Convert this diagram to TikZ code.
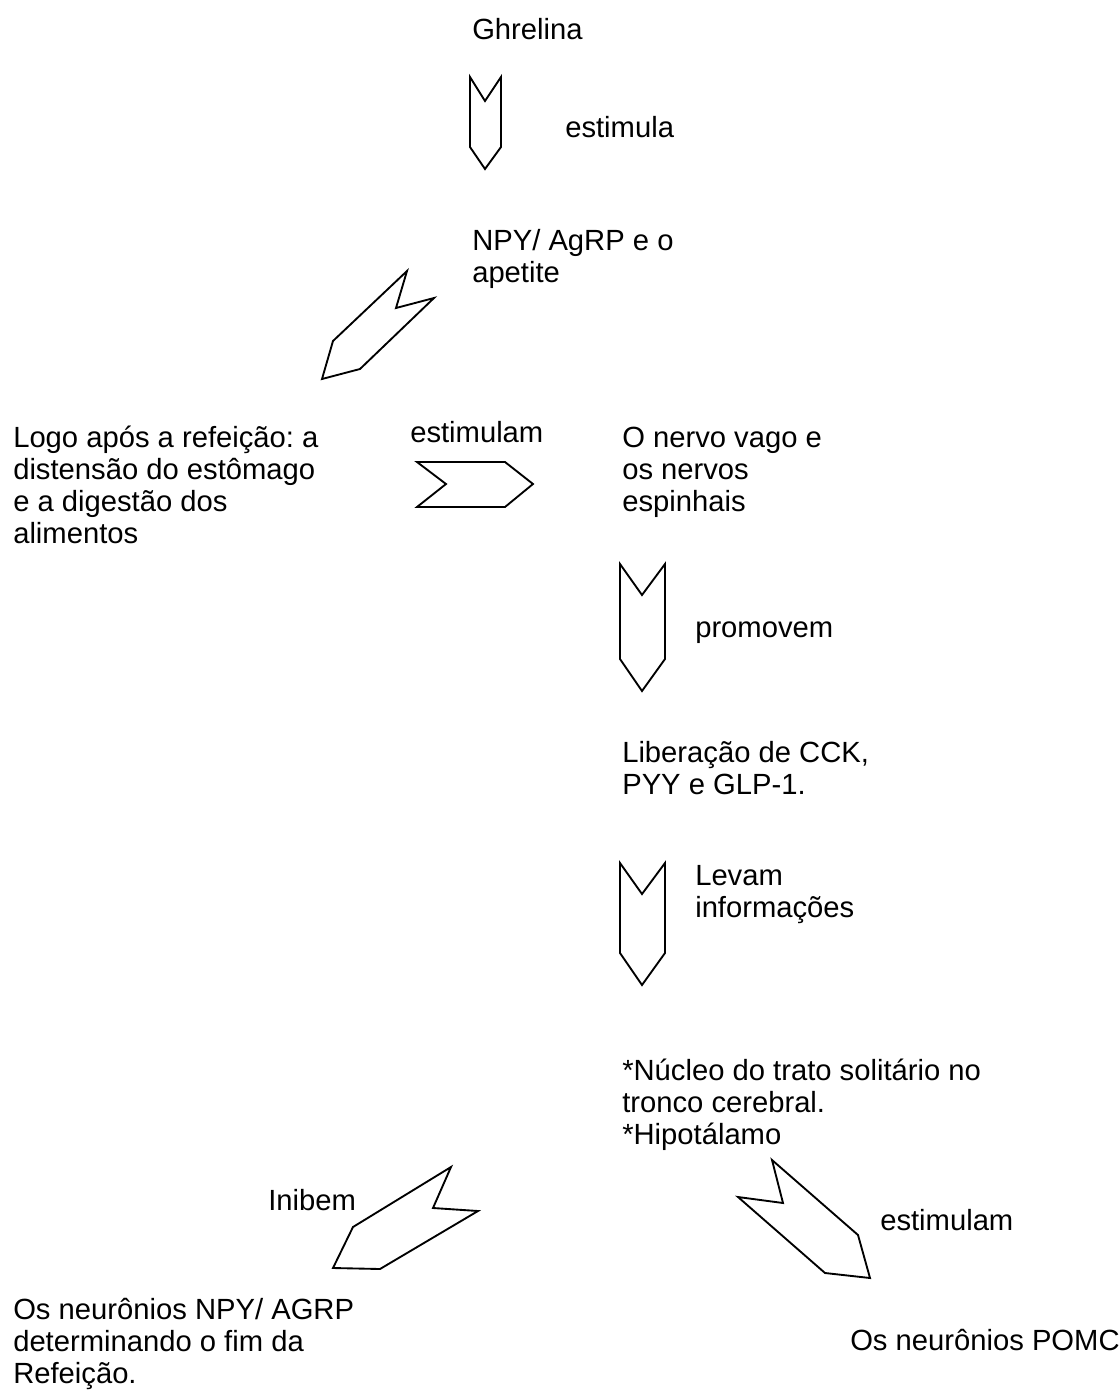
\documentclass[tikz,border=0pt]{standalone}
\usepackage{fontspec}
\setmainfont{Liberation Sans}
\usepackage{tikz}
\frenchspacing

\tikzset{
  txt/.style={anchor=base west, inner sep=0pt, align=left,
    font=\fontsize{21.9}{23.8}\selectfont},
  blockarrow/.style={draw=black, line width=1.4pt, line join=miter}
}

\begin{document}
\begin{tikzpicture}[x=0.75pt, y=-0.75pt]
        \useasboundingbox (0,0) rectangle (1120,1392);
        % texts (multi-line ones are placed by their last line)
        \node[txt] (ghrelina) at (472,39) {Ghrelina};
        \node[txt] (estimula) at (565,137) {estimula};
        \node[txt] (npy) at (472,282) {NPY/ AgRP e o\\apetite};
        \node[txt] (logo) at (13,543) {Logo após a refeição: a\\distensão do estômago\\e a digestão dos\\alimentos};
        \node[txt] (estimulamA) at (410,442) {estimulam};
        \node[txt] (vago) at (622,511) {O nervo vago e\\os nervos\\espinhais};
        \node[txt] (promovem) at (695,637) {promovem};
        \node[txt] (liberacao) at (622,794) {Liberação de CCK,\\PYY e GLP-1.};
        \node[txt] (levam) at (695,917) {Levam\\informações};
        \node[txt] (nucleo) at (622,1144) {*Núcleo do trato solitário no\\tronco cerebral.\\*Hipotálamo};
        \node[txt] (inibem) at (268,1210) {Inibem};
        \node[txt] (estimulamB) at (880,1230) {estimulam};
        \node[txt] (npyagrp) at (13,1383) {Os neurônios NPY/ AGRP\\determinando o fim da\\Refeição.};
        \node[txt] (pomc) at (850,1350) {Os neurônios POMC};
        % block arrows
        \draw[blockarrow] (470,77) -- (485,101) -- (501,77) -- (501,147) -- (485,169) -- (470,147) -- cycle;
        \draw[blockarrow] (407,271) -- (396,308) -- (434,298) -- (360,369) -- (322,379) -- (333,341) -- cycle;
        \draw[blockarrow] (417,462) -- (446,484) -- (417,507) -- (505,507) -- (533,484) -- (505,462) -- cycle;
        \draw[blockarrow] (620,564) -- (642,595) -- (665,564) -- (665,659) -- (642,691) -- (620,659) -- cycle;
        \draw[blockarrow] (620,863) -- (642,894) -- (665,863) -- (665,953) -- (642,985) -- (620,953) -- cycle;
        \draw[blockarrow] (451,1167) -- (433,1208) -- (478,1211) -- (380,1269) -- (333,1268) -- (353,1227) -- cycle;
        \draw[blockarrow] (772,1160) -- (783,1203) -- (738,1197) -- (825,1273) -- (870,1278) -- (858,1235) -- cycle;
      \end{tikzpicture}
\end{document}
